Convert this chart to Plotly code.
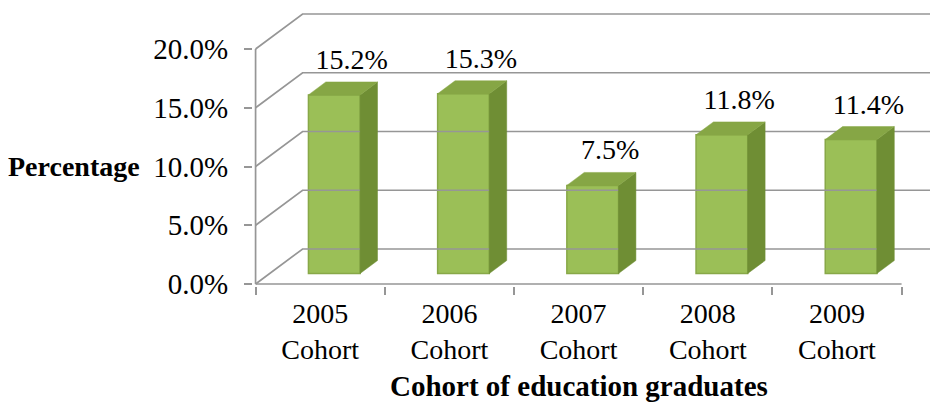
import plotly.graph_objects as go

# ---- data ----
categories = ["2005<br>Cohort", "2006<br>Cohort", "2007<br>Cohort", "2008<br>Cohort", "2009<br>Cohort"]
values = [15.2, 15.3, 7.5, 11.8, 11.4]
value_labels = ["15.2%", "15.3%", "7.5%", "11.8%", "11.4%"]
y_ticks = [0, 5, 10, 15, 20]
y_tick_labels = ["0.0%", "5.0%", "10.0%", "15.0%", "20.0%"]
y_title = "Percentage"
x_title = "Cohort of education graduates"

# ---- geometry / style ----
W, H = 930, 405
ML, MR, MT, MB = 253, 0, 5, 119
PX_PER_X = 129.2
PX_PER_Y = 11.75
x0 = -0.52
x1 = x0 + (W - ML - MR) / PX_PER_X
y0 = -0.17
y1 = y0 + (H - MT - MB) / PX_PER_Y

DX = 47 / PX_PER_X      # depth offset (x units) of the back wall
DY = 35 / PX_PER_Y      # depth offset (y units) of the back wall
D_FRONT, D_BACK = 0.30, 0.67
BAR_W = 0.40
LABEL_GAP = 1.7

FONT = "Liberation Serif"
GRID = "#969696"
FRONT = "#9bbf57"
FRONT_EDGE = "#88a848"
SIDE = "#6f8e34"
TOP = "#86a645"

xs = list(range(len(values)))
dd = D_BACK - D_FRONT

fig = go.Figure()

# walls / gridlines (from tick values)
gx, gy = [], []
for t in y_ticks:
    gx += [-0.5, -0.5 + DX, x1 + 0.2, None]
    gy += [t, t + DY, t + DY, None]
gx += [-0.5, -0.5, None, -0.5, len(values) - 0.5]
gy += [y_ticks[0], y_ticks[-1], None, 0, 0]
fig.add_trace(go.Scatter(x=gx, y=gy, mode="lines", line=dict(color=GRID, width=1.7),
                         hoverinfo="skip", showlegend=False))

# front faces
fig.add_trace(go.Bar(x=[i + D_FRONT * DX for i in xs], y=values,
                     base=[D_FRONT * DY] * len(values), width=BAR_W,
                     marker=dict(color=FRONT, line=dict(color=FRONT_EDGE, width=1.5)),
                     hoverinfo="skip", showlegend=False))

# side and top faces
sx, sy = [], []
tx, ty = [], []
for i, v in zip(xs, values):
    xr = i + D_FRONT * DX + BAR_W / 2
    xl = xr - BAR_W
    yb = D_FRONT * DY
    yt = yb + v
    sx += [xr, xr + dd * DX, xr + dd * DX, xr, xr, None]
    sy += [yb, yb + dd * DY, yt + dd * DY, yt, yb, None]
    tx += [xl, xr, xr + dd * DX, xl + dd * DX, xl, None]
    ty += [yt, yt, yt + dd * DY, yt + dd * DY, yt, None]
fig.add_trace(go.Scatter(x=sx, y=sy, mode="lines", fill="toself", fillcolor=SIDE,
                         line=dict(color=SIDE, width=0.5), hoverinfo="skip", showlegend=False))
fig.add_trace(go.Scatter(x=tx, y=ty, mode="lines", fill="toself", fillcolor=TOP,
                         line=dict(color=TOP, width=0.5), hoverinfo="skip", showlegend=False))

# value labels
fig.add_trace(go.Scatter(x=[i + D_BACK * DX for i in xs],
                         y=[v + D_BACK * DY + LABEL_GAP for v in values],
                         mode="text", text=value_labels, textposition="middle center",
                         textfont=dict(family=FONT, size=28, color="black"),
                         cliponaxis=False, hoverinfo="skip", showlegend=False))

fig.update_layout(
    width=W, height=H,
    margin=dict(l=ML, r=MR, t=MT, b=MB, pad=0),
    paper_bgcolor="white", plot_bgcolor="white",
    showlegend=False,
    xaxis=dict(range=[x0, x1], tickmode="array", tickvals=xs, ticktext=categories,
               ticks="", showgrid=False, zeroline=False, showline=False,
               tickfont=dict(family=FONT, size=28, color="black"),
               ticklabelstandoff=8,
               minor=dict(tickmode="array", tickvals=[i - 0.5 for i in range(len(values) + 1)],
                          ticks="outside", ticklen=8, tickcolor=GRID, tickwidth=1.5,
                          showgrid=False)),
    yaxis=dict(range=[y0, y1], tickmode="array", tickvals=y_ticks, ticktext=y_tick_labels,
               ticks="outside", ticklen=8, tickcolor=GRID, tickwidth=1.5,
               showgrid=False, zeroline=False, showline=False,
               tickfont=dict(family=FONT, size=29, color="black"),
               ticklabelstandoff=10),
    annotations=[
        dict(text="<b>" + y_title + "</b>", xref="paper", yref="y",
             x=(142 - ML) / (W - ML - MR), y=10, xanchor="right", yanchor="middle",
             showarrow=False, font=dict(family=FONT, size=28, color="black")),
        dict(text="<b>" + x_title + "</b>", xref="paper", yref="paper",
             x=(578.5 - ML) / (W - ML - MR), y=-(386 - (H - MB)) / (H - MT - MB),
             xanchor="center", yanchor="middle",
             showarrow=False, font=dict(family=FONT, size=29, color="black")),
    ],
)

fig.write_html("out.html", config={"displayModeBar": False})
